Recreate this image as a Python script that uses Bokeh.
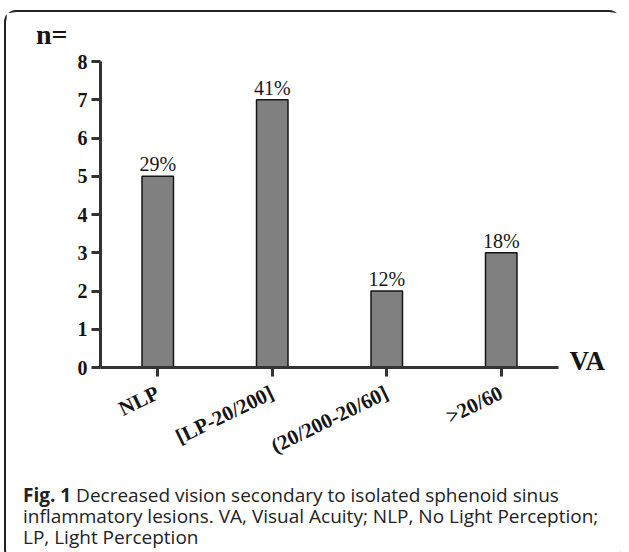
import math
from bokeh.plotting import figure
from bokeh.models import (FactorRange, Range1d, Div, Column, ColumnDataSource,
                          LinearAxis, FixedTicker)
from bokeh.core.properties import value
from bokeh.embed import file_html
from bokeh.resources import INLINE

categories = ["NLP", "[LP-20/200]", "(20/200-20/60]", ">20/60"]
counts = [5, 7, 2, 3]
percent_labels = ["29%", "41%", "12%", "18%"]
y_ticks = [0, 1, 2, 3, 4, 5, 6, 7, 8]
caption = ("<b>Fig. 1</b> Decreased vision secondary to isolated sphenoid sinus "
           "inflammatory lesions. VA, Visual Acuity; NLP, No Light Perception; "
           "LP, Light Perception")

SERIF = "Liberation Serif"
INK = "#151515"

source = ColumnDataSource(dict(cat=categories, n=counts, pct=percent_labels))

p = figure(x_range=FactorRange(*categories, range_padding=0),
           y_range=Range1d(0, 8.89),
           width=615, height=468,
           min_border_left=94, min_border_right=63,
           min_border_top=15, min_border_bottom=113,
           output_backend="svg", toolbar_location=None)
p.outline_line_color = None
p.xgrid.grid_line_color = None
p.ygrid.grid_line_color = None

# extra range for the "VA" label so that it sits slightly above the x axis
p.extra_y_ranges = {"va": Range1d(-0.18, 8.71)}

p.vbar(x="cat", top="n", width=0.275, source=source,
       fill_color="#808080", line_color=INK, line_width=1.5)

p.text(x="cat", y="n", text="pct", source=source,
       text_align="center", text_baseline="alphabetic", y_offset=-12,
       text_font=value(SERIF), text_font_size="20px", text_color=INK)

for ax in (p.xaxis[0], p.yaxis[0]):
    ax.axis_line_width = 3
    ax.axis_line_color = "#333333"
    ax.major_tick_line_width = 3
    ax.major_tick_line_color = "#333333"
    ax.major_tick_out = 9
    ax.major_tick_in = 0
    ax.minor_tick_line_color = None
    ax.major_label_text_font = SERIF
    ax.major_label_text_font_style = "bold"
    ax.major_label_text_color = INK

p.yaxis.bounds = (0, 8)
p.yaxis.ticker = y_ticks
p.yaxis.major_label_text_font_size = "20px"
p.yaxis.major_label_standoff = 4

p.xaxis.major_label_text_font_size = "21px"
p.xaxis.major_label_orientation = math.radians(26)
p.xaxis.major_label_standoff = 15


def text_axis(label, pos, range_name, standoff, size):
    ax = LinearAxis(ticker=FixedTicker(ticks=[pos]), y_range_name=range_name,
                    major_label_overrides={pos: label},
                    axis_line_color=None, major_tick_line_color=None,
                    minor_tick_line_color=None,
                    major_label_standoff=standoff,
                    major_label_text_font=SERIF,
                    major_label_text_font_style="bold",
                    major_label_text_font_size=size,
                    major_label_text_color=INK)
    return ax


# "n=" header on the left, "VA" title at the right end of the x axis
p.add_layout(text_axis("n=", 8.72, "default", 1, "28px"), "left")
p.add_layout(text_axis("VA", 0, "va", 5, "27px"), "right")

div = Div(text=caption, width=598, height=70,
          styles={"font-family": "Open Sans", "font-size": "19px",
                  "line-height": "21px", "color": "#222222",
                  "padding-left": "12px"})

layout = Column(p, div, margin=(10, 0, 0, 4),
                styles={"border": "2px solid #222222",
                        "border-right": "none",
                        "border-radius": "12px"})

open("out.html", "w").write(file_html(layout, INLINE))
